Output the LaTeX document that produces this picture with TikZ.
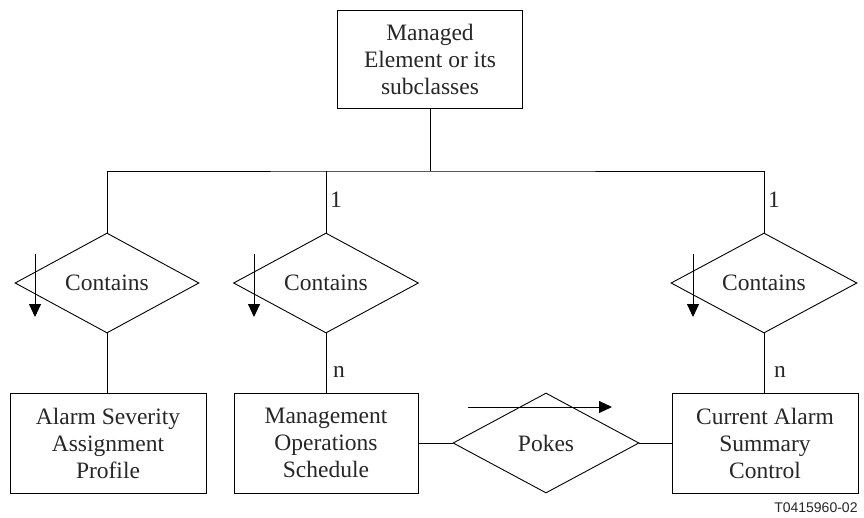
\documentclass[tikz,border=0pt]{standalone}
\usepackage{fontspec}
\setmainfont{Liberation Serif}
\newfontfamily\idfont{Liberation Sans}
\usetikzlibrary{shapes.geometric,arrows.meta}
\begin{document}
\begin{tikzpicture}[x=1pt,y=-1pt,line width=0.9pt,
  every node/.style={font=\fontsize{23.5}{27}\selectfont, text=black!85},
  entity/.style={draw, rectangle, align=center, inner sep=0pt},
  relation/.style={draw, diamond, aspect=1.84, inner sep=0pt},
  card/.style={inner sep=0pt},
  dirarrow/.style={-{Triangle[length=13pt,width=12pt]}}]
\useasboundingbox (0,0) rectangle (864,517);

% entities
\node[entity, minimum width=185pt, minimum height=98pt] (me) at (430,59)
  {Managed\\Element or its\\subclasses};
\node[entity, minimum width=196pt, minimum height=100pt] (asap) at (108,443)
  {Alarm Severity\\Assignment\\Profile};
\node[entity, minimum width=184pt, minimum height=100pt] (mos) at (326,443)
  {Management\\Operations\\Schedule};
\node[entity, minimum width=186pt, minimum height=100pt] (cas) at (765,443)
  {Current Alarm\\Summary\\Control};

% relationships
\node[relation, minimum width=184pt, minimum height=100pt] (c1) at (107,283) {Contains};
\node[relation, minimum width=185pt, minimum height=100pt] (c2) at (326,283) {Contains};
\node[relation, minimum width=186pt, minimum height=100pt] (c3) at (764,283) {Contains};
\node[relation, minimum width=186pt, minimum height=100pt] (pk) at (546,443) {Pokes};

% containment tree
\coordinate (bus) at (430,171);
\draw (me.south) -- (bus);
\draw (c1.north) |- (bus) -| (c3.north);
\draw (c2.north |- bus) -- (c2.north);
\draw (c1.south) -- (c1.south |- asap.north);
\draw (c2.south) -- (c2.south |- mos.north);
\draw (c3.south) -- (c3.south |- cas.north);

% pokes relationship
\draw (mos.east) -- (pk.west);
\draw (pk.east) -- (cas.west);

% reading direction arrows
\coordinate (a1s) at (35,254);  \coordinate (a1e) at (35,317);
\coordinate (a2s) at (254,254); \coordinate (a2e) at (254,317);
\coordinate (a3s) at (693,254); \coordinate (a3e) at (693,317);
\coordinate (a4s) at (468,407); \coordinate (a4e) at (612,407);
\draw[dirarrow] (a1s) -- (a1e);
\draw[dirarrow] (a2s) -- (a2e);
\draw[dirarrow] (a3s) -- (a3e);
\draw[dirarrow] (a4s) -- (a4e);

% cardinalities
\node[card] (k1) at (336,200) {1};
\node[card] (k2) at (774,200) {1};
\node[card] (k3) at (339,372) {n};
\node[card] (k4) at (780,372) {n};

% figure id
\node[anchor=south east, inner sep=0pt, font=\idfont\fontsize{14}{16}\selectfont] (fid) at (858,513) {T0415960-02};
\end{tikzpicture}
\end{document}
